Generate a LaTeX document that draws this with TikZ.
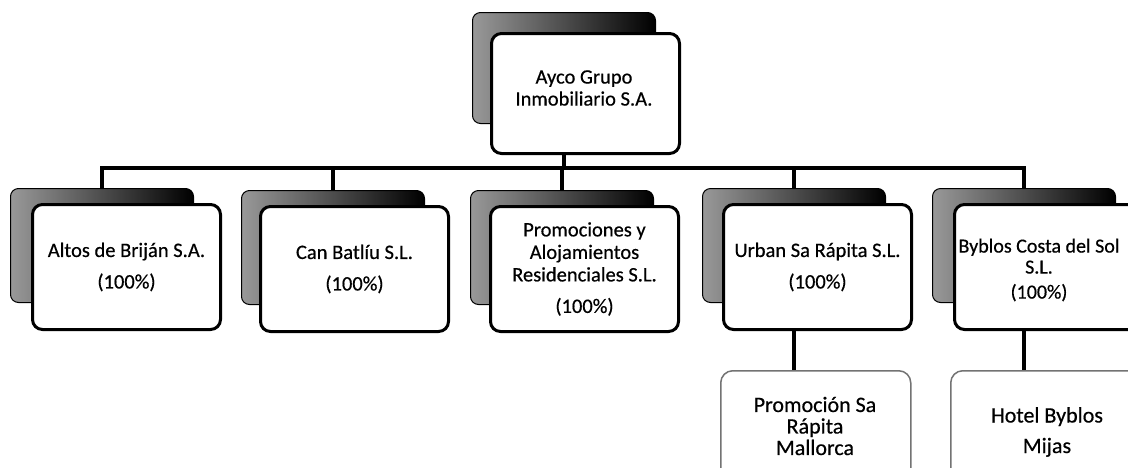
\documentclass[tikz,border=0pt]{standalone}
\usepackage{fontspec}
\setmainfont{Carlito}[FakeBold=0.5]
\begin{document}
\begin{tikzpicture}[x=1pt,y=-1pt,
  back/.style={draw=black, line width=1pt, rounded corners=8pt, left color=black!40, right color=black,
    minimum width=183pt, minimum height=114pt, anchor=north west, inner sep=0pt},
  front/.style={draw=black, line width=3pt, rounded corners=10pt, fill=white,
    minimum width=188pt, minimum height=125pt, anchor=north west, align=center, inner sep=2pt,
    font=\fontsize{20.5}{22.5}\selectfont},
  boxtext/.style={align=center, font=\fontsize{20.5}{22}\selectfont},
  leaf/.style={draw=black!55, line width=1.5pt, rounded corners=12pt, fill=white,
    minimum width=190pt, minimum height=120pt, anchor=north west, inner sep=0pt},
  leaftext/.style={align=center, font=\fontsize{22}{21.5}\selectfont},
  conn/.style={line width=4pt}]
\useasboundingbox (0,0) rectangle (1128,467);
\clip (0,0) rectangle (1128,467);
\fill[white] (0,0) rectangle (1128,467);
\coordinate (bus) at (0,168);
% back boxes
\node[back, minimum height=111pt] (tb) at (472,12) {};
\node[back] (b1b) at (10,188) {};
\node[back] (b2b) at (241,190) {};
\node[back] (b3b) at (470,190) {};
\node[back] (b4b) at (702,188) {};
\node[back] (b5b) at (932,188) {};
% leaf boxes
\node[leaf] (l4) at (720,370) {};
\node[leaf] (l5) at (950,370) {};
% connectors
\draw[conn] (tb.north |- 0,140) -- (tb.north |- bus);
\draw[conn] (b1b.north) -- (b1b.north |- bus) -- (b5b.north |- bus) -- (b5b.north);
\draw[conn] (b2b.north) -- (b2b.north |- bus);
\draw[conn] (b3b.north) -- (b3b.north |- bus);
\draw[conn] (b4b.north) -- (b4b.north |- bus);
\draw[conn] (b4b.south |- 0,320) -- (b4b.south |- l4.north);
\draw[conn] (b5b.south |- 0,320) -- (b5b.south |- l5.north);
% front boxes
\node[front, minimum height=120pt] (tf) at (490,32) {};
\node[boxtext] (tt) at (584,88) {Ayco Grupo\\Inmobiliario S.A.};
\node[front] (b1f) at (31,203) {Altos de Briján S.A.\\[9pt](100\%)};
\node[front] (b2f) at (259,205) {Can Batlíu S.L.\\[9pt](100\%)};
\node[front] (b3f) at (489,205) {Promociones y\\Alojamientos\\Residenciales S.L.\\[9pt](100\%)};
\node[front] (b4f) at (722,203) {Urban Sa Rápita S.L.\\[9pt](100\%)};
\node[front] (b5f) at (953,203) {};
\node[boxtext, font=\fontsize{20}{21}\selectfont] (b5t) at (1039,270) {Byblos Costa del Sol\\S.L.\\[4pt](100\%)};
% leaf texts
\node[leaftext] (l4t) at (815,426) {Promoción Sa\\Rápita\\Mallorca};
\node[leaftext] (l5t) at (1047,432) {Hotel Byblos\\[9pt]Mijas};
\end{tikzpicture}
\end{document}
